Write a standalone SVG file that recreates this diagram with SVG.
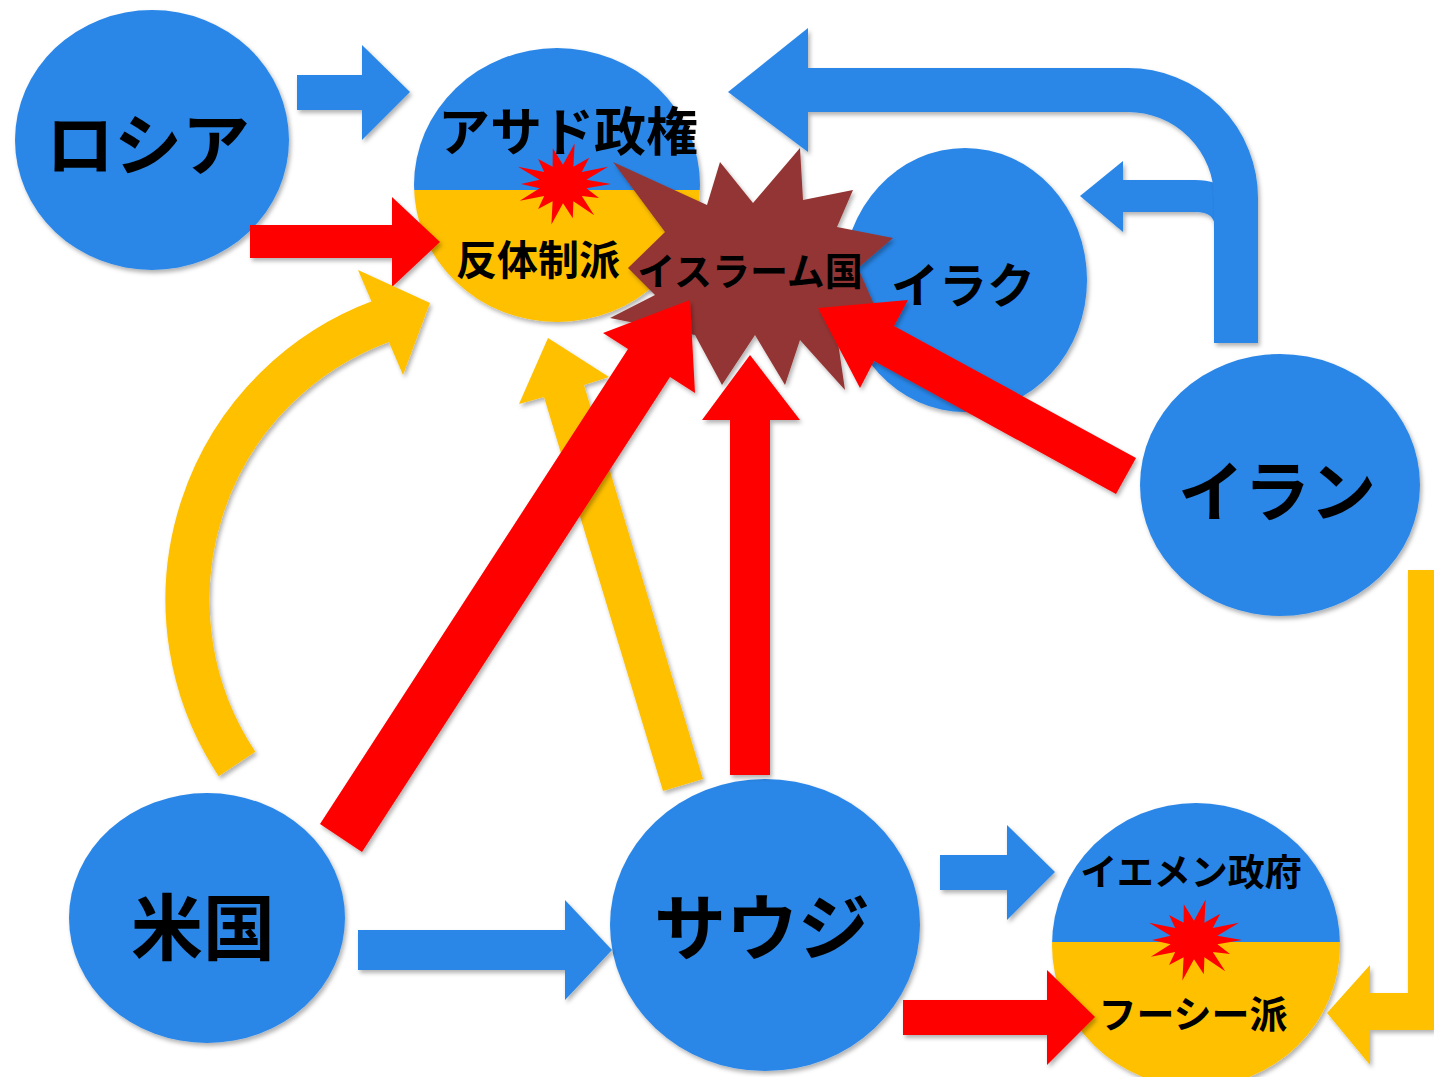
<svg xmlns="http://www.w3.org/2000/svg" xmlns:xlink="http://www.w3.org/1999/xlink" width="1434" height="1077" viewBox="0 0 1434 1077">
<style>
.blue{fill:#2C87E8}
.yel{fill:#FFC000}
.red{fill:#FF0000}
.brown{fill:#943634}
.sh{filter:url(#sh)}
text{font-family:"Noto Sans CJK JP","Noto Sans CJK SC",sans-serif;font-weight:700;fill:#000;text-anchor:middle;dominant-baseline:central}
</style>
<defs>
<filter id="sh" x="-10%" y="-10%" width="130%" height="130%">
<feDropShadow dx="2" dy="3" stdDeviation="2" flood-color="#000" flood-opacity="0.3"/>
</filter>
<path id="burst" d="M48,0 L23.4,5.3 L36,17.4 L18.8,15 L31.2,39.1 L10.4,21.6 L9.8,42.9 L0,24 L-11.6,50.7 L-10.4,21.6 L-24.9,31.3 L-18.8,15 L-43.2,20.8 L-23.4,5.3 L-42,0 L-23.4,-5.3 L-45,-21.7 L-18.8,-15 L-24.9,-31.3 L-10.4,-21.6 L-10.2,-44.8 L0,-24 L11.6,-50.7 L10.4,-21.6 L26.2,-32.8 L18.8,-15 L45,-21.7 L23.4,-5.3 Z" fill="#FF0000"/>
<clipPath id="cAssad"><ellipse cx="557" cy="185" rx="143" ry="137"/></clipPath>
<clipPath id="cYemen"><ellipse cx="1196" cy="945" rx="144" ry="142"/></clipPath>
</defs>
<rect width="1434" height="1077" fill="#fff"/>

<g id="node-russia">
<ellipse class="blue sh" cx="152" cy="140" rx="137" ry="130"/>
<text x="148" y="140" font-size="68">ロシア</text>
</g>
<g id="node-assad">
<g class="sh">
<g clip-path="url(#cAssad)">
<rect class="blue" x="410" y="40" width="300" height="150"/>
<rect class="yel" x="410" y="190" width="300" height="140"/>
</g>
</g>
<use xlink:href="#burst" transform="translate(563,184) scale(1,0.8)"/>
<text x="568" y="128" font-size="52">アサド政権</text>
<text x="538" y="257" font-size="41">反体制派</text>
</g>
<g id="node-iraq">
<ellipse class="blue sh" cx="965" cy="280" rx="122" ry="132"/>
</g>
<g id="node-is">
<polygon class="brown sh" points="613,162 707,205 720,162 753,203 800,148 803,200 853,190 837,227 893,238 858,268 880,318 835,322 845,390 800,340 785,385 755,335 722,385 695,335 610,318 655,295 628,268 665,232"/>
<text x="750" y="268" font-size="38">イスラーム国</text>
</g>
<g id="node-iran">
<ellipse class="blue sh" cx="1280" cy="485" rx="140" ry="131"/>
<text x="1277" y="487" font-size="66">イラン</text>
</g>
<g id="node-usa">
<ellipse class="blue sh" cx="207" cy="918" rx="138" ry="125"/>
<text x="203" y="922" font-size="72">米国</text>
</g>
<g id="node-saudi">
<ellipse class="blue sh" cx="765" cy="925" rx="155" ry="146"/>
<text x="762" y="922" font-size="72">サウジ</text>
</g>
<g id="node-yemen">
<g class="sh">
<g clip-path="url(#cYemen)">
<rect class="blue" x="1050" y="800" width="300" height="142"/>
<rect class="yel" x="1050" y="942" width="300" height="150"/>
</g>
</g>
<use xlink:href="#burst" transform="translate(1194,940) scale(1,0.8)"/>
<text x="1191" y="870" font-size="37">イエメン政府</text>
<text x="1193" y="1011" font-size="38">フーシー派</text>
</g>

<g id="connectors">
<!-- Russia -> Assad -->
<polygon class="blue sh" points="297,75 362,75 362,45 410,92 362,140 362,110 297,110"/>
<!-- Russia -> rebels -->
<polygon class="red sh" points="250,225 392,225 392,197 440,242 392,287 392,258 250,258"/>
<!-- Iran -> Iraq -->
<g class="sh">
<path d="M1232,228 Q1228,196 1195,196 L1118,196" fill="none" stroke="#2C87E8" stroke-width="32"/>
<polygon class="blue" points="1123,161 1080,196 1123,232"/>
</g>
<!-- Iran -> Assad (bent) -->
<g class="sh">
<path d="M1236,343 L1236,198 A108,108 0 0 0 1128,90 L800,90" fill="none" stroke="#2C87E8" stroke-width="44"/>
<polygon class="blue" points="808,28 728,92 808,152"/>
</g>
<!-- USA -> rebels (curved yellow) -->
<g class="sh">
<path d="M237,764 A297,297 0 0 1 382,321" fill="none" stroke="#FFC000" stroke-width="44"/>
<polygon class="yel" points="358,270 430,303 403,375"/>
</g>
<!-- Saudi -> rebels (yellow) -->
<polygon class="yel sh" points="663,791 544,397 519,404 548,338 609,377 584,385 703,779"/>
<!-- USA -> IS (red) -->
<polygon class="red sh" points="320,824 628,349 603,333 690,300 695,393 670,377 362,852"/>
<!-- Saudi -> IS (red) -->
<polygon class="red sh" points="730,775 730,420 702,420 750,355 800,420 770,420 770,775"/>
<!-- Iran -> IS (red) -->
<polygon class="red sh" points="1116,494 874,361 860,388 818,308 908,300 894,326 1136,458"/>
<!-- USA -> Saudi -->
<polygon class="blue sh" points="358,930 565,930 565,900 612,950 565,1000 565,970 358,970"/>
<!-- Saudi -> Yemen gov -->
<polygon class="blue sh" points="940,855 1007,855 1007,825 1055,872 1007,920 1007,890 940,890"/>
<!-- Saudi -> Houthi -->
<polygon class="red sh" points="903,1000 1047,1000 1047,970 1095,1017 1047,1065 1047,1035 903,1035"/>
<!-- Iran -> Houthi (yellow bent) -->
<polygon class="yel sh" points="1408,570 1434,570 1434,1030 1370,1030 1370,1065 1327,1013 1370,965 1370,993 1408,993"/>
</g>

<g id="labels-top">
<text x="963" y="282" font-size="48">イラク</text>
</g>
</svg>
